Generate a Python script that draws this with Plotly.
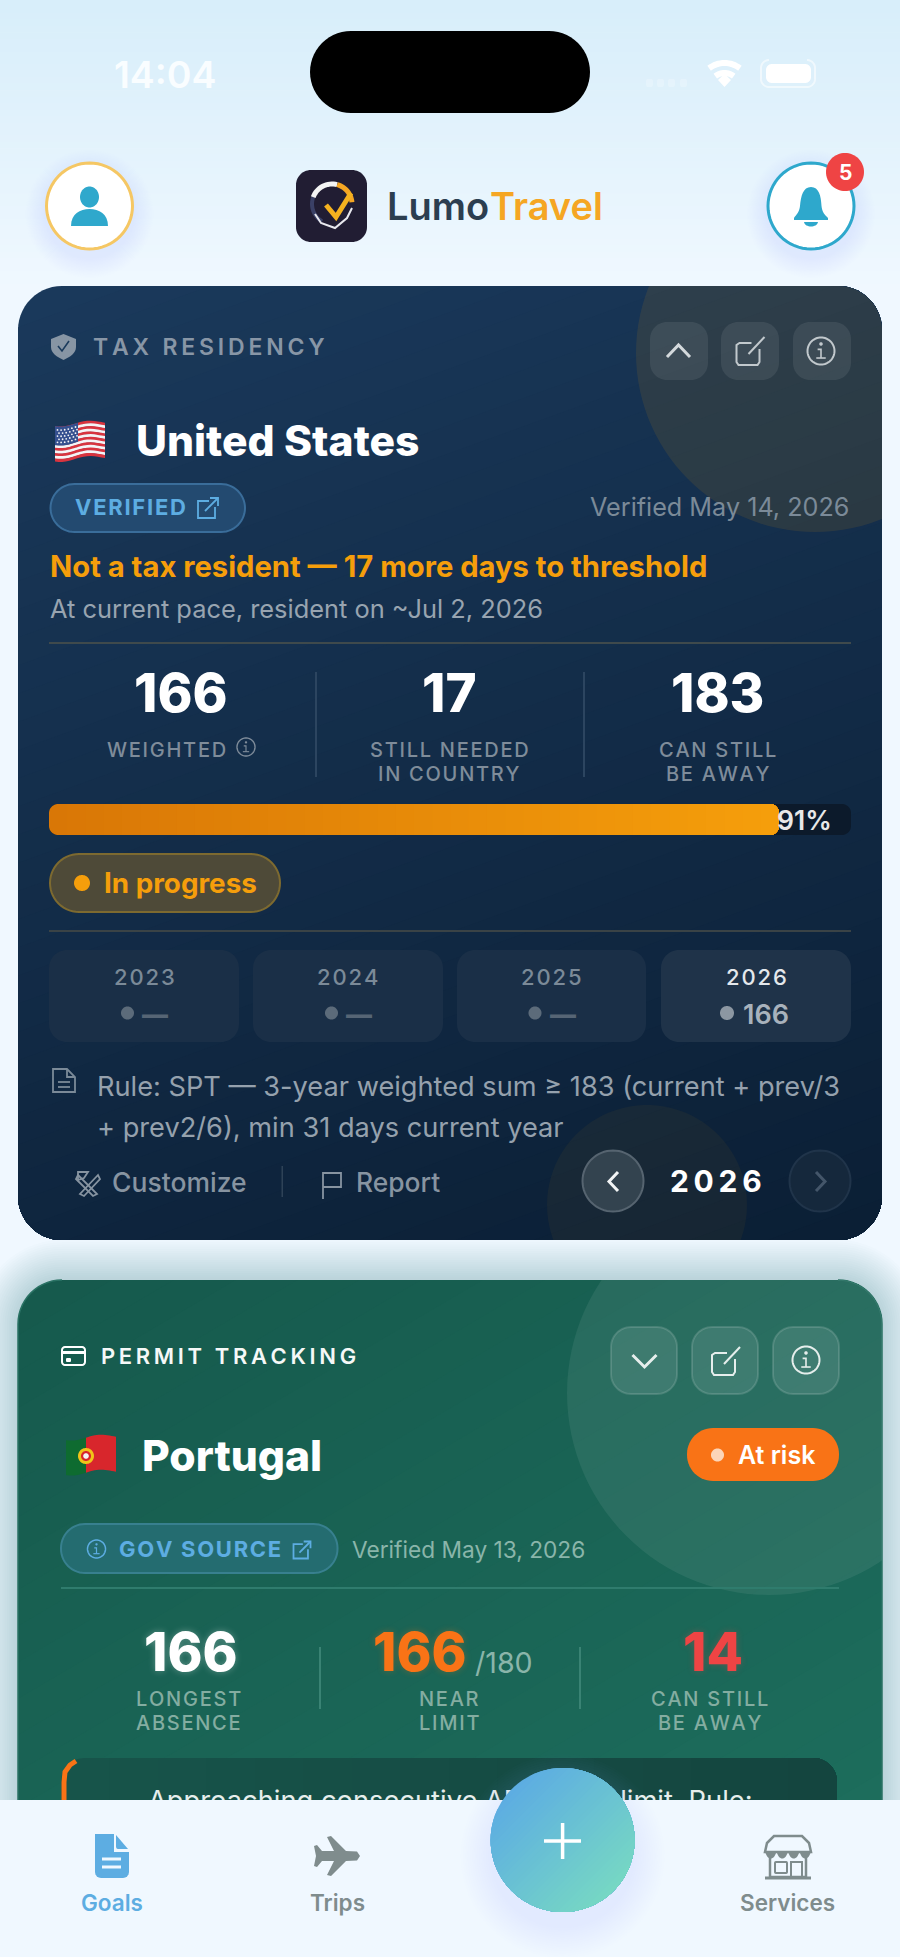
import math
import plotly.graph_objects as go

# Datos de la pantalla
TIME_LABEL = "14:04"
BADGE_COUNT = "5"
BRAND = ["Lumo", "Travel"]

TAX_TITLE = "TAX RESIDENCY"
TAX_COUNTRY = "United States"
TAX_BADGE = "VERIFIED"
TAX_VERIFIED = "Verified May 14, 2026"
TAX_HEADLINE = "Not a tax resident — 17 more days to threshold"
TAX_PACE = "At current pace, resident on ~Jul 2, 2026"
TAX_STATS = ["166", "17", "183"]
TAX_LABELS = [["WEIGHTED"], ["STILL NEEDED", "IN COUNTRY"], ["CAN STILL", "BE AWAY"]]
PROGRESS_PCT = 91
STATUS_LABEL = "In progress"
YEARS = ["2023", "2024", "2025", "2026"]
YEAR_VALUES = ["—", "—", "—", "166"]
RULE_LINES = ["Rule: SPT — 3-year weighted sum ≥ 183 (current + prev/3", "+ prev2/6), min 31 days current year"]
ACTIONS = ["Customize", "Report"]
CURRENT_YEAR = "2026"

PERMIT_TITLE = "PERMIT TRACKING"
PERMIT_COUNTRY = "Portugal"
PERMIT_STATUS = "At risk"
PERMIT_BADGE = "GOV SOURCE"
PERMIT_VERIFIED = "Verified May 13, 2026"
PERMIT_STATS = ["166", "166", "14"]
PERMIT_LIMIT = "/180"
PERMIT_LABELS = [["LONGEST", "ABSENCE"], ["NEAR", "LIMIT"], ["CAN STILL", "BE AWAY"]]
WARNING_TEXT = "Approaching consecutive ABSENCE limit. Rule:"
TABS = ["Goals", "Trips", "Services"]

FONT = "Inter"
W, H = 900, 1957
shapes = []
annotations = []


def hex_rgb(c):
    return tuple(int(c[i:i + 2], 16) for i in (1, 3, 5))


def mix(c0, c1, t):
    a, b = hex_rgb(c0), hex_rgb(c1)
    return "rgb(%d,%d,%d)" % tuple(round(a[i] + (b[i] - a[i]) * t) for i in range(3))


def rrect_pts(x0, y0, x1, y1, r, n=14):
    pts = []
    for cx, cy, start in [(x1 - r, y0 + r, -90), (x1 - r, y1 - r, 0), (x0 + r, y1 - r, 90), (x0 + r, y0 + r, 180)]:
        for i in range(n + 1):
            a = math.radians(start + 90 * i / n)
            pts.append((cx + r * math.cos(a), cy + r * math.sin(a)))
    return pts


def ellipse_pts(cx, cy, rx, ry=None, n=64, a0=0, a1=360):
    ry = rx if ry is None else ry
    return [(cx + rx * math.cos(math.radians(a0 + (a1 - a0) * i / n)),
             cy + ry * math.sin(math.radians(a0 + (a1 - a0) * i / n))) for i in range(n + 1)]


def clip_side(pts, a, b, c):
    # deja la parte con a*x + b*y >= c
    out = []
    for i, p in enumerate(pts):
        q = pts[(i + 1) % len(pts)]
        dp = a * p[0] + b * p[1] - c
        dq = a * q[0] + b * q[1] - c
        if dp >= 0:
            out.append(p)
        if (dp >= 0) != (dq >= 0):
            t = dp / (dp - dq)
            out.append((p[0] + (q[0] - p[0]) * t, p[1] + (q[1] - p[1]) * t))
    return out


def clip_to(pts, hull):
    # hull va en sentido horario en pantalla (y hacia abajo)
    for i, p in enumerate(hull):
        q = hull[(i + 1) % len(hull)]
        ex, ey = q[0] - p[0], q[1] - p[1]
        if abs(ex) + abs(ey) < 1e-9:
            continue
        nx, ny = -ey, ex
        pts = clip_side(pts, nx, ny, nx * p[0] + ny * p[1])
        if not pts:
            return []
    return pts


def to_path(pts, close=True):
    d = "M" + " L".join("%.2f,%.2f" % p for p in pts)
    return d + " Z" if close else d


def fill(pts, color, line=None, width=0, layer="below"):
    if not pts:
        return
    shapes.append(dict(type="path", path=to_path(pts), xref="x", yref="y", fillcolor=color, layer=layer,
                       line=dict(color=line or "rgba(0,0,0,0)", width=width)))


def fill_path(d, color, layer="below"):
    shapes.append(dict(type="path", path=d, xref="x", yref="y", fillcolor=color, layer=layer,
                       line=dict(color="rgba(0,0,0,0)", width=0)))


def stroke(pts, color, width=2, close=False, layer="below"):
    shapes.append(dict(type="path", path=to_path(pts, close), xref="x", yref="y", layer=layer,
                       fillcolor="rgba(0,0,0,0)", line=dict(color=color, width=width)))


def gradient(pts, c0, c1, d, steps, layer="below"):
    ts = [p[0] * d[0] + p[1] * d[1] for p in pts]
    lo, hi = min(ts), max(ts)
    for i in range(steps):
        part = clip_side(pts, d[0], d[1], lo + (hi - lo) * i / steps)
        fill(part, mix(c0, c1, i / max(steps - 1, 1)), layer=layer)


def soft_shadow(maker, spread, color, alpha, steps=14, layer="below"):
    # sombra difusa apilando capas translucidas
    for i in range(steps):
        fill(maker(spread * (1 - i / steps)), "rgba(%s,%.4f)" % (color, alpha), layer=layer)


def spaced(text, sep="\u200a"):
    return sep.join(text)


def txt(x, y, text, size, color, anchor="center", weight=400, shadow=None):
    font = dict(family=FONT, size=size, color=color, weight=weight)
    if shadow:
        font["shadow"] = shadow
    if anchor == "left":
        x -= 1.5
    annotations.append(dict(x=x, y=y, text=text, xref="x", yref="y", xanchor=anchor, yanchor="middle",
                            showarrow=False, font=font, borderpad=0))


def info_icon(cx, cy, r, color, width=2):
    stroke(ellipse_pts(cx, cy, r), color, width)
    fill(ellipse_pts(cx, cy - r * 0.52, r * 0.13), color)
    stroke([(cx - r * 0.25, cy - r * 0.12), (cx, cy - r * 0.12), (cx, cy + r * 0.52)], color, width * 0.8)
    stroke([(cx - r * 0.35, cy + r * 0.52), (cx + r * 0.35, cy + r * 0.52)], color, width * 0.8)


def edit_icon(cx, cy, color):
    stroke([(cx + 2, cy - 8), (cx - 10, cy - 8), (cx - 13, cy - 6), (cx - 13, cy + 11), (cx - 11, cy + 14),
            (cx + 8, cy + 14), (cx + 10, cy + 11), (cx + 10, cy - 2)], color, 2)
    stroke([(cx - 1, cy + 3), (cx + 15, cy - 14)], color, 2)


def ext_icon(cx, cy, color, s=10):
    stroke([(cx + 0.1 * s, cy - 0.7 * s), (cx - s, cy - 0.7 * s), (cx - s, cy + s), (cx + 0.7 * s, cy + s),
            (cx + 0.7 * s, cy - 0.1 * s)], color, 1.8)
    stroke([(cx - 0.3 * s, cy + 0.3 * s), (cx + s, cy - s)], color, 1.8)
    stroke([(cx + 0.2 * s, cy - s), (cx + s, cy - s), (cx + s, cy - 0.2 * s)], color, 1.8)


def wave(x, x0, x1):
    t = (x - x0) / (x1 - x0)
    return 2.0 * math.sin(t * 2 * math.pi + 0.6) - 3.5 * t


def flag_band(x0, x1, y0, y1, fx0, fx1, n=14):
    xs = [x0 + (x1 - x0) * i / n for i in range(n + 1)]
    top = [(x, y0 + wave(x, fx0, fx1)) for x in xs]
    bottom = [(x, y1 + wave(x, fx0, fx1)) for x in reversed(xs)]
    return top + bottom


# Fondo de la pagina
shapes.append(dict(type="rect", x0=0, x1=W, y0=0, y1=H, xref="x", yref="y", fillcolor="#f0f8ff",
                   line=dict(width=0), layer="below"))
for i in range(45):
    y = 290 * i / 45
    shapes.append(dict(type="rect", x0=0, x1=W, y0=y, y1=y + 7, xref="x", yref="y",
                       fillcolor=mix("#d8eefa", "#f0f8ff", (i / 44) ** 1.1), line=dict(width=0), layer="below"))

# Barra de estado
fill(rrect_pts(310, 31, 590, 113, 41), "#000000")
txt(165, 74, TIME_LABEL, 37.5, "#f9fdff", weight=600)
for sx in [646, 657, 668, 680]:
    fill(rrect_pts(sx, 79, sx + 7, 87, 2), "rgba(255,255,255,0.22)")
stroke(ellipse_pts(724.5, 88, 25, n=16, a0=232, a1=308), "#ffffff", 6)
stroke(ellipse_pts(724.5, 88, 15, n=16, a0=232, a1=308), "#ffffff", 6)
fill([(718, 80), (724.5, 74), (731, 80), (724.5, 87)], "#ffffff")
stroke(rrect_pts(761, 60, 815, 87, 8), "rgba(255,255,255,0.55)", 2)
fill(rrect_pts(766, 64, 811, 83, 6), "#ffffff")

# Cabecera
soft_shadow(lambda s: ellipse_pts(89.5, 214, 44 + s), 20, "130,200,235", 0.011)
fill(ellipse_pts(89.5, 206, 43), "#ffffff", "#f5c764", 3)
fill(ellipse_pts(89.5, 197, 9.5, 10.5), "#2fa8cc")
fill_path("M71,226 C71,214 80,209 89.5,209 C99,209 108,214 108,226 Z", "#2fa8cc")

soft_shadow(lambda s: ellipse_pts(811, 214, 44 + s), 20, "130,200,235", 0.011)
fill(ellipse_pts(811, 206, 43), "#ffffff", "#2ea8cc", 3)
fill_path("M811,187 C803,187 801,196 800,206 C799.5,212 796,215 794,218 L794,220 L828,220 L828,218 "
          "C825,215 822,212 821.5,206 C821,196 819,187 811,187 Z", "#2ea8cc")
fill_path("M804,222 L818,222 C817,228 805,228 804,222 Z", "#2ea8cc")
fill(ellipse_pts(845, 172, 19), "#ef4444")
txt(845, 172, BADGE_COUNT, 21, "#ffffff", weight=700)

fill(rrect_pts(296, 170, 367, 242, 15), "#211d33")
stroke(ellipse_pts(332, 204, 20, n=12, a0=120, a1=200), "#3a4066", 4)
stroke(ellipse_pts(332, 204, 20, n=16, a0=200, a1=285), "#f4f4f4", 5)
stroke(ellipse_pts(332, 204, 20, n=14, a0=285, a1=355), "#f5a623", 5)
stroke([(315, 214), (321, 223), (335, 228), (347, 218), (352, 208)], "#e8e8ee", 2)
stroke([(326, 205), (336, 217), (351, 193)], "#f5b21f", 5)
txt(387, 206, BRAND[0], 38, "#2c3e50", "left", 600)
txt(490, 206, BRAND[1], 38, "#f5a623", "left", 600)

# Sombra de la tarjeta verde (debajo de las dos tarjetas)
soft_shadow(lambda s: rrect_pts(18 - s, 1280 - s, 882 + s, 1900, 44 + s), 40, "85,105,105", 0.015, steps=18)

# Tarjeta de residencia fiscal
card1 = rrect_pts(18, 286, 882, 1240, 44)
gradient(card1, "#1a395b", "#0b1f35", (0.34, 0.94), 44)
fill(clip_to(ellipse_pts(815, 353, 179, n=120), card1), "rgba(245,160,0,0.10)")
fill(clip_to(ellipse_pts(647, 1205, 100, n=90), card1), "rgba(245,160,0,0.05)")

fill_path("M63.5,334 L76,339 L76,347 C76,353 70,357 63.5,360 C57,357 51,353 51,347 L51,339 Z", "#8795a4")
stroke([(58, 346), (62, 351), (69, 341)], "#1a3a5c", 1.6)
txt(93, 347, spaced(TAX_TITLE, "\u2009"), 23, "#8896a6", "left", 600)

for bx in [650, 721, 793]:
    fill(rrect_pts(bx, 322, bx + 58, 380, 17), "rgba(255,255,255,0.08)")
stroke([(667, 357), (678.5, 345), (690, 357)], "#d4d9dc", 3)
edit_icon(749.5, 351, "#c2c9cd")
info_icon(821, 351, 13.5, "#c2c9cd")

# Bandera de Estados Unidos
US = (55, 105, 425, 460)
for i in range(13):
    y0 = US[2] + (US[3] - US[2]) * i / 13
    fill(flag_band(US[0], US[1], y0, y0 + (US[3] - US[2]) / 13 + 0.4, US[0], US[1]),
         "#d8343f" if i % 2 == 0 else "#f4f4f6")
fill(flag_band(US[0], 78, US[2], US[2] + 19, US[0], US[1]), "#35508f")

txt(136.5, 440, TAX_COUNTRY, 42.6, "#ffffff", "left", 800)
fill(rrect_pts(50.5, 484, 245, 532, 24), "#234a70", "#3a6d9a", 2)
txt(75, 507, spaced(TAX_BADGE), 22, "#5dade2", "left", 700)
ext_icon(208, 508, "#5dade2")
txt(850, 507, TAX_VERIFIED, 25.2, "#7b8a98", "right")
txt(50, 566, TAX_HEADLINE, 29.2, "#f59e0b", "left", 700)
txt(50, 608, TAX_PACE, 25.4, "#98a4b0", "left")
fill([(49, 642), (851, 642), (851, 644), (49, 644)], "#3f4a4c")

for cx, value in zip([181, 449.5, 717.5], TAX_STATS):
    txt(cx, 693, value, 53, "#ffffff", weight=800)
for cx, lines in zip([166, 449, 717], TAX_LABELS):
    for k, line in enumerate(lines):
        txt(cx, 750 + 24 * k, spaced(line), 20, "#7f8c9a", weight=500)
info_icon(246, 747, 9, "#7f8c9a", 1.4)
for vx in [316, 584]:
    fill([(vx - 1, 672), (vx + 1, 672), (vx + 1, 777), (vx - 1, 777)], "#2c4560")

# Barra de progreso
track_l, track_r = 49, 851
fill(rrect_pts(track_l, 804, track_r, 835, 9), "#0c1a2b")
bar_r = track_l + (track_r - track_l) * PROGRESS_PCT / 100
gradient(rrect_pts(track_l, 804, bar_r, 835, 9), "#d97706", "#f59e0b", (1, 0), 40)
txt(804, 820, str(PROGRESS_PCT) + "%", 26.5, "#e8e8e8", weight=600)

fill(rrect_pts(50, 854, 280, 912, 29), "#4e4a38", "#7d6a30", 2)
fill(ellipse_pts(82, 883, 8), "#f59e0b")
txt(104, 883, STATUS_LABEL, 27.8, "#f59e0b", "left", 700)
fill([(49, 930), (851, 930), (851, 932), (49, 932)], "#3a4346")

year_boxes = [(49, 239), (253, 443), (457, 646), (661, 851)]
for k, (x0, x1) in enumerate(year_boxes):
    last = k == len(YEARS) - 1
    fill(rrect_pts(x0, 950, x1, 1042, 18), "#1f3349" if last else "#1a2f47")
    cx = (x0 + x1) / 2
    txt(cx, 977, spaced(YEARS[k]), 22, "#e4e8ec" if last else "#7b8a98", weight=500)
    if last:
        fill(ellipse_pts(cx - 29, 1013, 7), "#8c97a2")
        txt(cx + 10, 1014, YEAR_VALUES[k], 27, "#a8b2bc", weight=600)
    else:
        fill(ellipse_pts(cx - 16.5, 1013, 6.5), "#5c6b7a")
        txt(cx + 11, 1014, YEAR_VALUES[k], 26, "#566575", weight=800)

# Regla y acciones
stroke([(53, 1069), (67, 1069), (75, 1077), (75, 1092), (53, 1092)], "#7b8a98", 1.8, close=True)
stroke([(67, 1069), (67, 1077), (75, 1077)], "#7b8a98", 1.8)
stroke([(58, 1082), (70, 1082)], "#7b8a98", 1.8)
stroke([(58, 1087), (70, 1087)], "#7b8a98", 1.8)
txt(97, 1086, RULE_LINES[0], 27.2, "#95a1ad", "left")
txt(97, 1127, RULE_LINES[1], 27.2, "#95a1ad", "left")

stroke([(78, 1175), (97, 1194), (93, 1196), (76, 1179)], "#8794a1", 1.8, close=True)
stroke([(98, 1175), (80, 1194), (84, 1196), (100, 1179)], "#8794a1", 1.8, close=True)
stroke([(78, 1172), (88, 1172), (84, 1178), (78, 1180)], "#8794a1", 1.8, close=True)
txt(112.5, 1182, ACTIONS[0], 26.5, "#8794a1", "left", 500)
fill([(281.5, 1166), (283, 1166), (283, 1197), (281.5, 1197)], "#2e4257")
stroke([(323, 1199), (323, 1173), (341, 1173), (341, 1187), (323, 1187)], "#8794a1", 1.8)
txt(356, 1182, ACTIONS[1], 26.4, "#8794a1", "left", 500)

fill(ellipse_pts(613, 1181, 30.5), "#33434f", "#566470", 2)
stroke([(618, 1172), (609, 1181.5), (618, 1191)], "#f2f4f5", 3)
txt(715.5, 1181, spaced(CURRENT_YEAR, "\u2009"), 30, "#ffffff", weight=700)
fill(ellipse_pts(820, 1181, 30.5), "#15283c", "#20344a", 2)
stroke([(816, 1172), (825, 1181.5), (816, 1191)], "#44566a", 3)

# Tarjeta de permiso
card2 = rrect_pts(18, 1280, 882, 1900, 44)
gradient(card2, "#165a4d", "#1d6e5d", (0.5, 0.85), 30)
stroke(card2, "#2a7264", 1.5)
fill(clip_to(ellipse_pts(769, 1393, 202, n=120), card2), "rgba(255,255,255,0.07)")

stroke(rrect_pts(62, 1347, 85, 1365, 3, n=4), "#ffffff", 2, close=True)
fill([(62, 1351), (85, 1351), (85, 1354), (62, 1354)], "#ffffff")
fill(rrect_pts(66, 1358, 71, 1362, 1, n=2), "#ffffff")
txt(101.5, 1356, spaced(PERMIT_TITLE, "\u2009"), 22, "#f5f8f7", "left", 600)

for bx in [611, 692, 773]:
    fill(rrect_pts(bx, 1327, bx + 66, 1394, 20), "rgba(255,255,255,0.10)", "rgba(255,255,255,0.14)", 2)
stroke([(632.5, 1355), (644.5, 1367), (656.5, 1355)], "#e6eeec", 3)
edit_icon(725, 1361, "#e6eeec")
info_icon(806, 1360, 13.5, "#e6eeec")

# Bandera de Portugal
PT = (66, 116, 1439, 1474)
fill(flag_band(PT[0], 86, PT[2], PT[3], PT[0], PT[1]), "#0e6b30")
fill(flag_band(86, PT[1], PT[2], PT[3], PT[0], PT[1]), "#d8262c")
fill(ellipse_pts(86, 1456, 8), "#f0c419")
fill(ellipse_pts(86, 1456, 5), "#d8262c")
fill(ellipse_pts(86, 1456, 2.8), "#f4f4f6")

txt(142.5, 1455, PERMIT_COUNTRY, 42.6, "#ffffff", "left", 800)
fill(rrect_pts(687, 1428, 839, 1481, 26), "#f97316")
fill(ellipse_pts(717.5, 1455, 6.5), "#fcd5b8")
txt(738, 1455, PERMIT_STATUS, 25, "#ffffff", "left", 600)

fill(rrect_pts(61, 1524, 337.5, 1573, 24), "#246c70", "#38808f", 2)
info_icon(96.5, 1549, 9, "#5dade2", 1.5)
txt(119, 1549, spaced(PERMIT_BADGE), 22, "#5dade2", "left", 700)
ext_icon(302, 1550, "#5dade2", 8.5)
txt(352, 1549, PERMIT_VERIFIED, 22.7, "#8ab5aa", "left")
fill([(61, 1587), (839, 1587), (839, 1589), (61, 1589)], "#2f7c6d")

stat_colors = ["#ffffff", "#f97316", "#ef4444"]
stat_glows = ["rgba(255,255,255,0.3)", "rgba(249,115,22,0.3)", "rgba(239,68,68,0.3)"]
for cx, value, color, glow in zip([191, 420, 713], PERMIT_STATS, stat_colors, stat_glows):
    txt(cx, 1652, value, 53, color, weight=800, shadow="0 0 7px " + glow)
txt(475, 1662, PERMIT_LIMIT, 28.6, "#8ab5aa", "left")
for cx, lines in zip([188, 449, 709.5], PERMIT_LABELS):
    for k, line in enumerate(lines):
        txt(cx, 1699 + 24 * k, spaced(line), 20, "#84ada1", weight=500)
for vx in [320, 580]:
    fill([(vx - 1, 1647), (vx + 1, 1647), (vx + 1, 1709), (vx - 1, 1709)], "#3a8374")

warn_box = rrect_pts(61, 1758, 837, 1880, 24)
gradient(warn_box, "#17544a", "#14453f", (1, 0), 16)
stroke([(64, 1815), (64, 1782), (65, 1772), (70, 1765), (76, 1761)], "#f97316", 5)

# Barra inferior: va encima del texto del aviso
TOP = "above"
fill([(0, 1800), (W, 1800), (W, H), (0, H)], "#f0f8ff", layer=TOP)
soft_shadow(lambda s: ellipse_pts(562.6, 1856, 70 + s), 32, "140,205,240", 0.012, layer=TOP)
gradient(ellipse_pts(562.6, 1840, 72, n=90), "#5dade2", "#76d7c4", (0.707, 0.707), 34, layer=TOP)
stroke([(544, 1841), (581, 1841)], "#ffffff", 3.5, layer=TOP)
stroke([(562.6, 1823), (562.6, 1859)], "#ffffff", 3.5, layer=TOP)

# Icono Goals
fill(rrect_pts(95, 1834, 129, 1878, 6, n=4), "#5dade2", layer=TOP)
fill([(114, 1833), (130, 1833), (130, 1852), (114, 1852)], "#f0f8ff", layer=TOP)
fill([(113, 1834), (113, 1852), (129, 1852), (129, 1858), (95, 1858), (95, 1834)], "#5dade2", layer=TOP)
fill_path("M116,1835 L128,1849 L118,1849 C116.5,1849 116,1848 116,1846 Z", "#5dade2", layer=TOP)
stroke([(102, 1859), (121, 1859)], "#f0f8ff", 3, layer=TOP)
stroke([(102, 1867), (121, 1867)], "#f0f8ff", 3, layer=TOP)

# Icono Trips
fill([(360, 1856), (357, 1851.5), (346, 1851), (331, 1836), (327, 1837), (334, 1851), (322, 1851), (317, 1845),
      (314, 1846), (316, 1856), (314, 1866), (317, 1867), (322, 1861), (334, 1861), (327, 1875), (331, 1876),
      (346, 1861), (357, 1860.5)], "#7f8c8d", layer=TOP)

# Icono Services
stroke([(770, 1857), (770, 1877), (806, 1877), (806, 1857)], "#7f8c8d", 2.5, layer=TOP)
stroke([(765, 1878), (811, 1878)], "#7f8c8d", 3, layer=TOP)
stroke([(774, 1836), (802, 1836), (809, 1843), (811, 1852), (765, 1852), (767, 1843)], "#7f8c8d", 2.5, close=True, layer=TOP)
for sx in [765, 776.5, 788, 799.5]:
    fill_path("M%g,1851 C%g,1861 %g,1861 %g,1851 Z" % (sx, sx + 2, sx + 9.5, sx + 11.5), "#7f8c8d", layer=TOP)
stroke(rrect_pts(775, 1862, 787, 1873, 1, n=2), "#7f8c8d", 2, close=True, layer=TOP)
stroke([(791, 1877), (791, 1862), (802, 1862), (802, 1877)], "#7f8c8d", 2, layer=TOP)

tab_colors = ["#5dade2", "#7f8c8d", "#7f8c8d"]
for cx, label, color in zip([112, 337, 787], TABS, tab_colors):
    txt(cx, 1902, label, 22.5, color, weight=600)

fig = go.Figure()

# Estrellas del canton como marcadores
star_x, star_y = [], []
for row in range(5):
    for col in range(6):
        sx = 57.5 + col * 3.6 + (row % 2) * 1.5
        star_x.append(sx)
        star_y.append(428.5 + row * 3.1 + wave(sx, US[0], US[1]))
fig.add_trace(go.Scatter(x=star_x, y=star_y, mode="markers", hoverinfo="skip",
                         marker=dict(size=1.8, color="#f4f4f6")))

# El aviso es una traza para que la barra inferior lo tape
fig.add_trace(go.Scatter(x=[148], y=[1803], mode="text", text=[WARNING_TEXT], textposition="middle right",
                         hoverinfo="skip", textfont=dict(family=FONT, size=27.3, color="#e6eeec")))

fig.update_layout(
    width=W, height=H, autosize=False, showlegend=False,
    margin=dict(l=0, r=0, t=0, b=0, pad=0),
    paper_bgcolor="#f0f8ff", plot_bgcolor="rgba(0,0,0,0)",
    xaxis=dict(range=[0, W], visible=False, fixedrange=True),
    yaxis=dict(range=[H, 0], visible=False, fixedrange=True),
    shapes=shapes, annotations=annotations,
)

fig.write_html("out.html", config=dict(displayModeBar=False), post_script="document.body.style.margin='0';")
